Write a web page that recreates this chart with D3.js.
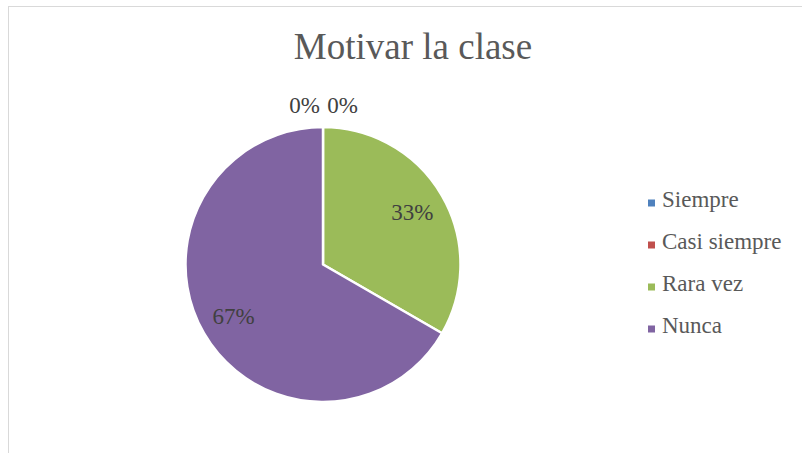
<!DOCTYPE html>
<html>
<head>
<meta charset="utf-8">
<script src="https://cdn.jsdelivr.net/npm/d3@7"></script>
<style>
  html, body { margin: 0; padding: 0; background: #fff; }
  svg { display: block; }
  text { font-family: "Liberation Serif", "Times New Roman", Tinos, "DejaVu Serif", serif; }
</style>
</head>
<body>
<svg id="chart" width="802" height="453"></svg>
<script>
const categories = ["Siempre", "Casi siempre", "Rara vez", "Nunca"];
const values = [0, 0, 1, 2];
const labels = ["0%", "0%", "33%", "67%"];
const colors = ["#4F81BD", "#C0504D", "#9BBB59", "#8064A2"];
const title = "Motivar la clase";

const svg = d3.select("#chart");

// chart frame
svg.append("rect")
  .attr("x", 8.5).attr("y", 6.5)
  .attr("width", 820).attr("height", 460)
  .attr("fill", "#fff").attr("stroke", "#D9D9D9").attr("stroke-width", 1);

svg.append("text")
  .attr("x", 413).attr("y", 59)
  .attr("text-anchor", "middle")
  .attr("font-size", 37)
  .attr("fill", "#595959")
  .text(title);

const cx = 323, cy = 264.5, r = 137.5;
const g = svg.append("g").attr("transform", `translate(${cx},${cy})`);

const pie = d3.pie().sort(null).value(d => d)(values);
const arc = d3.arc().innerRadius(0).outerRadius(r);
const labelArc = d3.arc().innerRadius(r * 0.75).outerRadius(r * 0.75);

g.selectAll("path.slice")
  .data(pie)
  .join("path")
  .attr("class", "slice")
  .attr("d", arc)
  .attr("fill", (d, i) => colors[i])
  .attr("stroke", "#fff")
  .attr("stroke-width", 2.5)
  .attr("stroke-linejoin", "round");

let zeroIdx = 0;
g.selectAll("text.lbl")
  .data(pie)
  .join("text")
  .attr("class", "lbl")
  .attr("font-size", 23)
  .attr("fill", "#404040")
  .attr("text-anchor", "middle")
  .attr("dominant-baseline", "central")
  .each(function (d, i) {
    let x, y;
    if (d.value === 0) {
      const off = zeroIdx === 0 ? -18.5 : 19.5;
      zeroIdx++;
      x = Math.sin(d.startAngle) * (r + 22) + off;
      y = -Math.cos(d.startAngle) * (r + 22);
    } else {
      [x, y] = labelArc.centroid(d);
    }
    d3.select(this).attr("x", x).attr("y", y);
  })
  .text((d, i) => labels[i]);

// legend
const legend = svg.append("g").attr("transform", "translate(648,0)");
const ly = d3.scalePoint().domain(categories).range([207, 333]);
categories.forEach((c, i) => {
  legend.append("rect")
    .attr("x", 0).attr("y", ly(c) - 7.5)
    .attr("width", 7).attr("height", 7)
    .attr("fill", colors[i]);
  legend.append("text")
    .attr("x", 14).attr("y", ly(c))
    .attr("font-size", 23)
    .attr("fill", "#595959")
    .text(c);
});
</script>
</body>
</html>
